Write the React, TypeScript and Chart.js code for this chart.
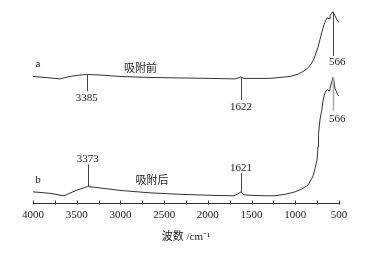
import React, { useEffect, useRef } from "react";
import { Chart, registerables } from "chart.js";

Chart.register(...registerables);

// Spectrum a (before adsorption): wavenumber (cm-1) and signal (a.u., offset)
const wavenumbersA = [4000, 3863, 3691, 3577, 3462, 3385, 3234, 3005, 2662, 2319, 1975, 1690, 1655, 1622, 1587, 1461, 1290, 1175, 1060, 980, 912, 866, 832, 797, 774, 740, 717, 694, 671, 648, 637, 614, 603, 580, 566, 546, 523, 500];
const valuesA = [130, 129, 127.5, 130, 131.5, 132, 131.5, 130, 129, 128.5, 128, 127.5, 128.5, 129.5, 128, 128, 128, 129, 130, 132, 135, 138, 141, 146, 151, 160, 168, 176, 183, 188, 190, 189, 192, 195.5, 196, 192, 188, 185];

// Spectrum b (after adsorption)
const wavenumbersB = [4000, 3806, 3645, 3520, 3373, 3234, 3005, 2662, 2319, 1975, 1701, 1655, 1621, 1587, 1518, 1347, 1232, 1118, 1003, 923, 854, 797, 774, 751, 740, 734, 717, 698, 683, 668, 652, 629, 614, 603, 566, 546, 515, 500];
const valuesB = [12, 10.5, 8, 13, 17.5, 16, 13.5, 11, 9.5, 8.5, 8, 10, 12, 9, 8.5, 8, 8, 9.5, 12, 15, 19, 28, 36, 45, 58, 71, 86, 95, 105, 111, 115, 116.3, 115.5, 118, 129.5, 118, 111.3, 110];

// Peak annotations
const peakLabels = ["3385", "1622", "566", "3373", "1621", "566"];
const peakWavenumbers = [3385, 1622, 566, 3373, 1621, 566];
const peakLineFrom = [132, 129.5, 196, 40, 31, 129.5];
const peakLineTo = [115, 106, 151, 17.5, 12, 95];
const peakLabelX = [3385, 1622, 520, 3373, 1621, 520];
const peakLabelY = [108, 99, 145, 45, 36, 86];
const peakLineGray = [false, false, false, false, false, true];

// Curve names
const curveTexts = ["a", "吸附前", "b", "吸附后"];
const curveTextX = [3943, 2770, 3943, 2639];
const curveTextY = [143, 138, 24, 23];

const xTicksMin = 500;
const xTicksMax = 4000;
const xTickStep = 250;
const xLabelStep = 500;

const SERIF = "'Liberation Serif', 'Times New Roman', serif";
const CJK = "'Liberation Serif', 'Noto Sans CJK SC', serif";

const annotate = {
  id: "annotate",
  afterDatasetsDraw(chart: any) {
    const { ctx, scales } = chart;
    const xs = scales.x;
    const ys = scales.y;
    ctx.save();
    // inward ticks
    ctx.strokeStyle = "#333";
    ctx.lineWidth = 1;
    const yb = Math.round(xs.top) + 0.5;
    xs.ticks.forEach((t: any) => {
      const px = Math.round(xs.getPixelForValue(t.value)) + 0.5;
      ctx.beginPath();
      ctx.moveTo(px, yb);
      ctx.lineTo(px, yb - 4);
      ctx.stroke();
    });
    // peak lines and labels
    ctx.font = `11px ${SERIF}`;
    ctx.textAlign = "center";
    ctx.textBaseline = "middle";
    peakLabels.forEach((lab, i) => {
      const px = Math.round(xs.getPixelForValue(peakWavenumbers[i])) + 0.5;
      ctx.strokeStyle = peakLineGray[i] ? "#aaa" : "#444";
      ctx.lineWidth = peakLineGray[i] ? 1.5 : 1;
      ctx.beginPath();
      ctx.moveTo(px, ys.getPixelForValue(peakLineFrom[i]));
      ctx.lineTo(px, ys.getPixelForValue(peakLineTo[i]));
      ctx.stroke();
      ctx.fillStyle = "#222";
      ctx.fillText(lab, xs.getPixelForValue(peakLabelX[i]), ys.getPixelForValue(peakLabelY[i]));
    });
    curveTexts.forEach((txt, i) => {
      ctx.font = `11px ${CJK}`;
      ctx.fillStyle = "#222";
      ctx.fillText(txt, xs.getPixelForValue(curveTextX[i]), ys.getPixelForValue(curveTextY[i]));
    });
    ctx.restore();
  },
};

export default function App() {
  const ref = useRef<HTMLCanvasElement | null>(null);
  useEffect(() => {
    if (!ref.current) return;
    const chart = new Chart(ref.current, {
      type: "line",
      data: {
        datasets: [
          {
            label: "a",
            data: wavenumbersA.map((w, i) => ({ x: w, y: valuesA[i] })),
            borderColor: "#333",
            borderWidth: 1,
            pointRadius: 0,
            tension: 0,
            fill: false,
          },
          {
            label: "b",
            data: wavenumbersB.map((w, i) => ({ x: w, y: valuesB[i] })),
            borderColor: "#333",
            borderWidth: 1,
            pointRadius: 0,
            tension: 0,
            fill: false,
          },
        ],
      },
      options: {
        animation: false,
        responsive: false,
        maintainAspectRatio: false,
        layout: { padding: { left: 33, right: 26, top: 8, bottom: 9 } },
        plugins: { legend: { display: false }, tooltip: { enabled: false } },
        scales: {
          x: {
            type: "linear",
            reverse: true,
            min: xTicksMin,
            max: xTicksMax,
            grid: { display: false, drawTicks: false },
            border: { display: true, color: "#333", width: 1 },
            ticks: {
              stepSize: xTickStep,
              autoSkip: false,
              maxRotation: 0,
              padding: 5,
              color: "#222",
              font: { family: SERIF, size: 11 },
              callback: (v: any) => (Number(v) % xLabelStep === 0 ? String(v) : ""),
            },
            title: {
              display: true,
              text: "波数 /cm⁻¹",
              color: "#222",
              font: { family: CJK, size: 11 },
              padding: { top: 4, bottom: 0 },
            },
          },
          y: { display: false, min: 0, max: 200 },
        },
      },
      plugins: [annotate],
    });
    return () => chart.destroy();
  }, []);
  return (
    <div style={{ position: "absolute", left: 0, top: 0, width: 365, height: 253, background: "#fff" }}>
      <canvas ref={ref} width={365} height={253} style={{ width: 365, height: 253, display: "block" }} />
    </div>
  );
}
